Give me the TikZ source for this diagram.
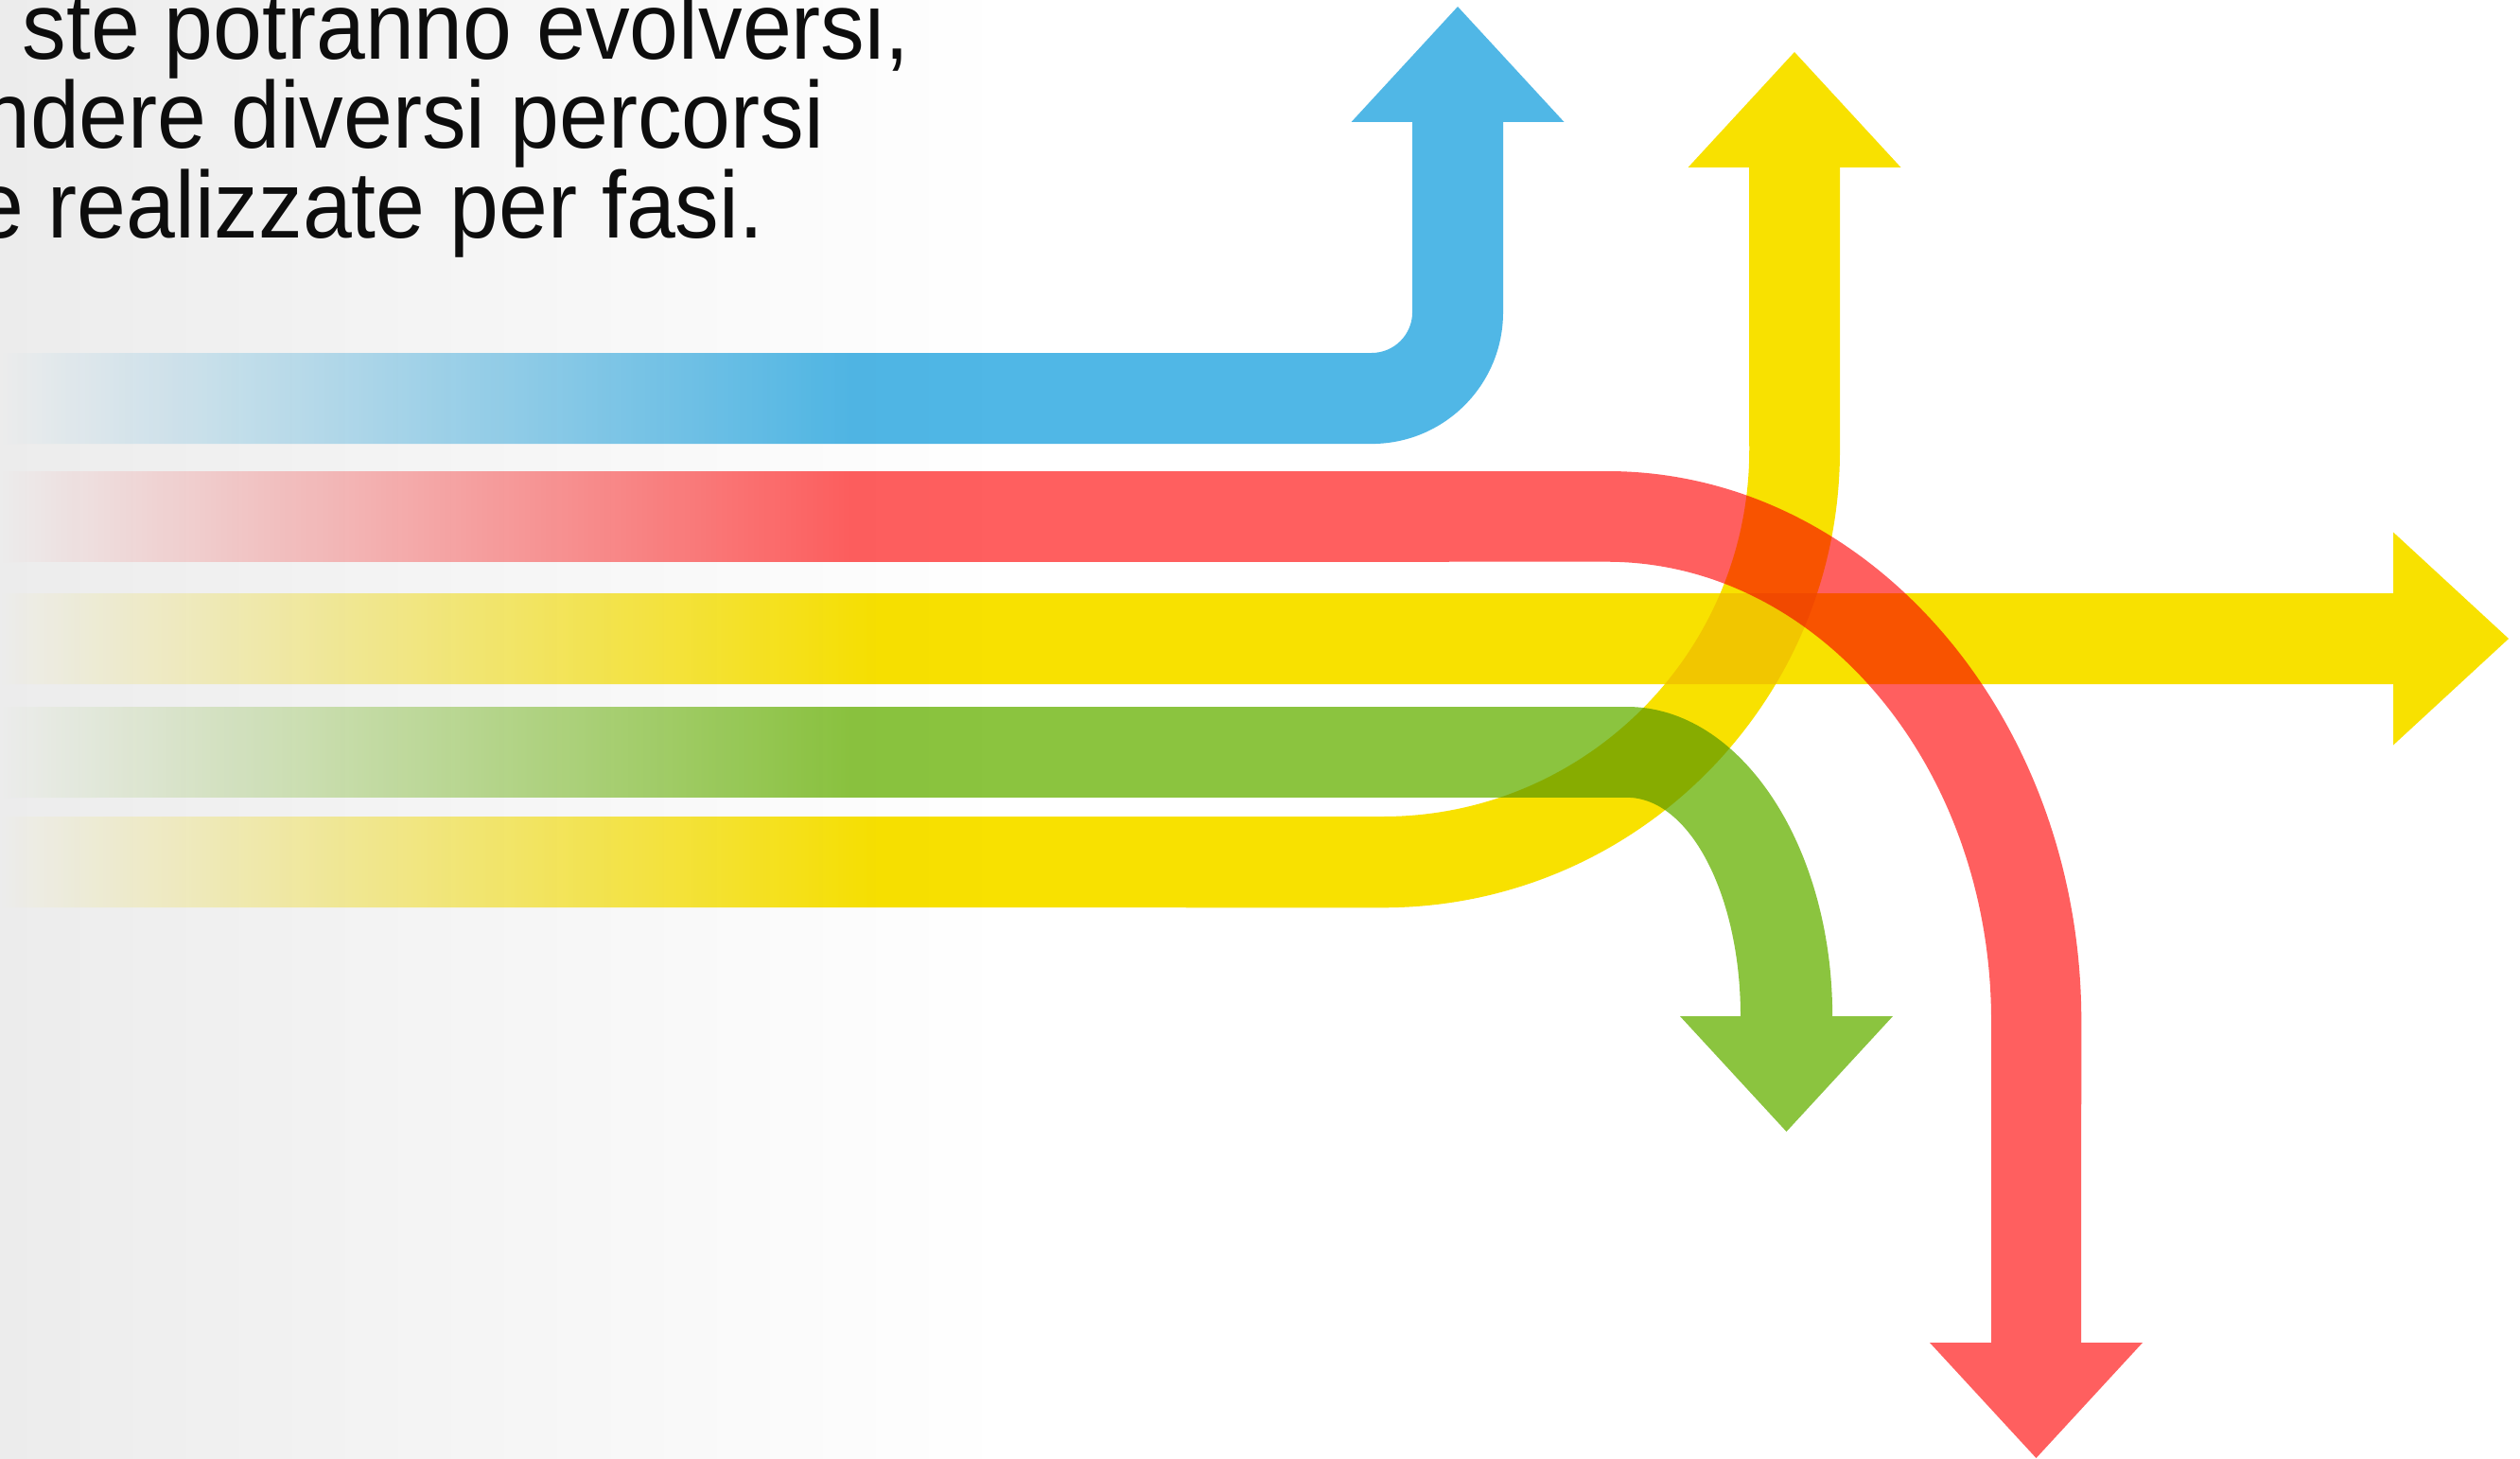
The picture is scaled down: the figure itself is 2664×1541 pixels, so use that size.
\documentclass[tikz,border=0pt]{standalone}
\usepackage{fontspec}
\setmainfont{Liberation Sans}[FakeStretch=0.93]
\usepackage{tikz}
\definecolor{pathblue}{HTML}{50B7E6}
\definecolor{pathred}{HTML}{FF5F5F}
\definecolor{pathyellow}{HTML}{F8E100}
\definecolor{pathgreen}{HTML}{8BC43F}
\definecolor{bggray}{HTML}{ECECEC}

\pgfdeclarehorizontalshading{bgfade}{100bp}{color(0bp)=(bggray); color(25bp)=(bggray); color(45bp)=(white); color(100bp)=(white)}
\pgfdeclarehorizontalshading{bluefade}{100bp}{color(0bp)=(white); color(25bp)=(white); color(41.9bp)=(pathblue); color(100bp)=(pathblue)}
\pgfdeclarehorizontalshading{redfade}{100bp}{color(0bp)=(white); color(25bp)=(white); color(41.9bp)=(pathred); color(100bp)=(pathred)}
\pgfdeclarehorizontalshading{yellowfade}{100bp}{color(0bp)=(white); color(25bp)=(white); color(42.5bp)=(pathyellow); color(100bp)=(pathyellow)}
\pgfdeclarehorizontalshading{greenfade}{100bp}{color(0bp)=(white); color(25bp)=(white); color(41.9bp)=(pathgreen); color(100bp)=(pathgreen)}

\begin{document}
\begin{tikzpicture}[
    x=0.01cm, y=0.01cm,
    textline/.style={font=\fontsize{28.5}{35}\selectfont,
                     text=black!95,
                     inner sep=0pt,
                     anchor=base east}
]
\useasboundingbox (0,0) rectangle (2664,1541);
\clip (0,0) rectangle (2664,1541);
\shade[shading=bgfade] (0,0) rectangle (2664,1541);

\node[textline] (line1) at (962,1478) {ste potranno evolversi,};
\node[textline] (line2) at (872,1384) {ndere diversi percorsi};
\node[textline] (line3) at (808,1289) {e realizzate per fasi.};

\begin{scope}[blend mode=multiply]
  % blu
  \begin{scope}
    \clip (0,1168) -- (1450,1168) arc[start angle=-90, end angle=0, radius=0.43cm]
      -- (1493,1412) -- (1428.5,1412) -- (1541,1534) -- (1653.5,1412) -- (1589,1412)
      -- (1589,1211) arc[start angle=0, end angle=-90, radius=1.39cm]
      -- (0,1072) -- cycle;
    \shade[shading=bluefade] (0,0) rectangle (2664,1541);
  \end{scope}
  % rosso
  \begin{scope}
    \clip (0,1043) -- (1699,1043) arc[start angle=90, end angle=0, x radius=5.01cm, y radius=5.81cm]
      -- (2200,122) -- (2265,122) -- (2152.5,0) -- (2040,122) -- (2105,122)
      -- (2105,462) arc[start angle=0, end angle=90, x radius=4.06cm, y radius=4.85cm]
      -- (0,947) -- cycle;
    \shade[shading=redfade] (0,0) rectangle (2664,1541);
  \end{scope}
  % giallo dritto
  \begin{scope}
    \clip (0,914) -- (2530,914) -- (2530,978.5) -- (2652,866) -- (2530,753.5)
      -- (2530,818) -- (0,818) -- cycle;
    \shade[shading=yellowfade] (0,0) rectangle (2664,1541);
  \end{scope}
  % verde
  \begin{scope}
    \clip (0,794) -- (1720,794) arc[start angle=90, end angle=0, x radius=2.17cm, y radius=3.27cm]
      -- (2001,467) -- (1888.5,345) -- (1776,467) -- (1840,467)
      arc[start angle=0, end angle=90, x radius=1.2cm, y radius=2.31cm]
      -- (0,698) -- cycle;
    \shade[shading=greenfade] (0,0) rectangle (2664,1541);
  \end{scope}
  % giallo in alto
  \begin{scope}
    \clip (0,678) -- (1462,678) arc[start angle=-90, end angle=0, radius=3.87cm]
      -- (1849,1364) -- (1784.5,1364) -- (1897,1486) -- (2009.5,1364) -- (1945,1364)
      -- (1945,1065) arc[start angle=0, end angle=-90, radius=4.83cm]
      -- (0,582) -- cycle;
    \shade[shading=yellowfade] (0,0) rectangle (2664,1541);
  \end{scope}
\end{scope}
\end{tikzpicture}
\end{document}
